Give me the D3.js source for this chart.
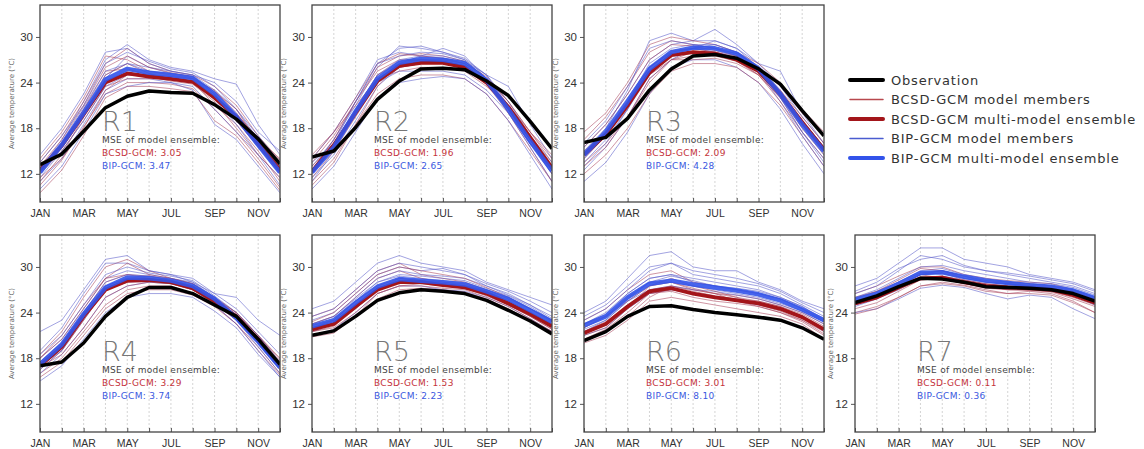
<!DOCTYPE html>
<html>
<head>
<meta charset="utf-8">
<script src="https://cdn.jsdelivr.net/npm/d3@7"></script>
<style>
  body { margin: 0; background: #fff; }
  svg { display: block; font-family: "DejaVu Sans", sans-serif; }
</style>
</head>
<body>
<div class="chart"></div>
<script>
// month labels / regions
const months = ["JAN", "FEB", "MAR", "APR", "MAY", "JUN", "JUL", "AUG", "SEP", "OCT", "NOV", "DEC"];
const shownMonths = ["JAN", "MAR", "MAY", "JUL", "SEP", "NOV"];
const regions = ["R1", "R2", "R3", "R4", "R5", "R6", "R7"];
const yTicks = [12, 18, 24, 30];

// MSE of model ensemble
const mseBcsd = [3.05, 1.96, 2.09, 3.29, 1.53, 3.01, 0.11];
const mseBip = [3.47, 2.65, 4.28, 3.74, 2.23, 8.10, 0.36];

// observation, one row per region
const observation = [
  [13.2, 14.6, 17.6, 20.7, 22.2, 22.9, 22.7, 22.6, 21.1, 19.2, 16.6, 13.3],
  [14.2, 15.0, 18.1, 21.8, 24.2, 25.8, 25.9, 25.7, 24.2, 22.3, 18.9, 15.3],
  [16.1, 16.8, 19.3, 23.0, 25.8, 27.5, 27.7, 27.2, 25.8, 23.8, 20.3, 17.0],
  [17.0, 17.5, 20.0, 23.5, 26.0, 27.3, 27.3, 26.5, 25.0, 23.5, 20.5, 17.2],
  [21.0, 21.6, 23.5, 25.6, 26.6, 27.0, 26.8, 26.5, 25.6, 24.3, 22.9, 21.2],
  [20.3, 21.5, 23.5, 24.8, 24.9, 24.4, 24.0, 23.7, 23.4, 23.0, 22.0, 20.5],
  [25.3, 26.2, 27.4, 28.5, 28.4, 28.0, 27.4, 27.3, 27.2, 27.0, 26.5, 25.5]
];

// BCSD-GCM multi-model ensemble
const bcsdEnsemble = [
  [12.5, 15.7, 19.8, 24.0, 25.2, 24.8, 24.5, 24.1, 22.0, 19.5, 16.0, 12.5],
  [12.3, 15.8, 20.0, 24.2, 26.2, 26.6, 26.6, 26.0, 24.0, 20.8, 16.8, 12.8],
  [14.5, 17.2, 21.0, 25.3, 27.6, 28.0, 27.8, 27.0, 25.5, 22.5, 18.8, 15.2],
  [17.0, 19.5, 23.5, 27.0, 28.2, 28.3, 28.0, 27.2, 25.5, 23.5, 20.5, 17.0],
  [21.8, 22.5, 24.8, 27.0, 28.0, 28.0, 27.6, 27.3, 26.5, 25.2, 23.8, 22.2],
  [21.3, 22.5, 24.8, 26.8, 27.2, 26.5, 26.0, 25.6, 25.2, 24.5, 23.4, 21.8],
  [25.2, 26.0, 27.3, 28.5, 28.6, 28.0, 27.5, 27.3, 27.2, 27.0, 26.3, 25.3]
];

// BIP-GCM multi-model ensemble
const bipEnsemble = [
  [12.2, 15.8, 20.0, 24.4, 25.8, 25.3, 25.0, 24.6, 22.5, 19.5, 15.8, 12.2],
  [12.2, 15.5, 20.2, 24.5, 26.6, 27.1, 27.0, 26.5, 24.3, 20.5, 16.3, 12.4],
  [14.5, 17.5, 21.5, 25.8, 28.0, 28.6, 28.5, 27.8, 25.8, 22.5, 18.5, 15.0],
  [17.2, 19.8, 23.8, 27.3, 28.6, 28.5, 28.2, 27.5, 25.8, 23.3, 20.2, 16.8],
  [22.2, 23.0, 25.3, 27.4, 28.4, 28.2, 28.0, 27.7, 26.8, 25.8, 24.3, 22.8],
  [22.3, 23.5, 26.0, 27.8, 28.2, 27.7, 27.3, 26.9, 26.4, 25.6, 24.4, 23.0],
  [25.7, 26.5, 27.8, 29.2, 29.3, 28.7, 28.2, 27.9, 27.6, 27.4, 26.9, 25.9]
];

// BCSD-GCM model members (per region)
const bcsdMembers = [
  [
    [10.5, 13.8, 18.2, 22.5, 24.0, 24.0, 23.8, 23.2, 20.5, 17.5, 14.0, 10.2],
    [13.5, 17.0, 21.5, 26.5, 28.5, 26.5, 25.5, 25.0, 23.5, 21.0, 17.0, 13.8],
    [12.0, 15.0, 19.0, 23.5, 24.5, 24.5, 24.5, 24.0, 22.0, 19.8, 16.8, 12.8],
    [11.0, 14.5, 19.5, 25.0, 26.5, 25.2, 24.5, 24.2, 21.0, 18.5, 15.0, 11.0],
    [14.0, 17.5, 22.0, 27.5, 27.0, 25.5, 25.0, 24.5, 23.0, 20.0, 16.5, 14.0],
    [9.5, 12.5, 17.0, 22.0, 23.5, 23.5, 23.2, 22.8, 19.0, 17.0, 13.5, 9.8],
    [12.5, 16.0, 20.5, 25.5, 25.8, 25.0, 24.8, 24.5, 22.5, 19.0, 15.5, 12.0],
    [13.0, 16.5, 21.0, 26.0, 27.5, 26.0, 25.3, 24.8, 22.8, 20.5, 16.0, 13.0],
    [11.5, 14.0, 18.0, 23.0, 25.0, 24.8, 24.2, 23.8, 21.5, 18.0, 14.5, 11.5]
  ],
  [
    [11.0, 14.0, 18.5, 22.5, 24.5, 25.0, 25.0, 24.5, 22.5, 19.0, 15.0, 11.0],
    [13.5, 17.0, 21.5, 26.0, 27.5, 27.8, 27.5, 26.8, 24.5, 21.5, 17.5, 13.5],
    [12.0, 15.5, 20.0, 24.5, 26.0, 26.5, 26.5, 26.0, 24.0, 20.5, 16.5, 12.5],
    [14.5, 17.5, 21.0, 24.5, 25.5, 26.0, 26.0, 25.5, 23.5, 21.0, 17.5, 14.5],
    [10.5, 13.5, 18.5, 23.5, 26.5, 27.0, 27.0, 26.5, 24.5, 20.0, 15.5, 11.0],
    [12.5, 16.5, 21.5, 25.5, 27.0, 27.0, 26.8, 26.2, 24.0, 20.5, 16.8, 12.8],
    [13.0, 16.0, 20.5, 25.0, 26.8, 27.0, 26.8, 26.2, 24.3, 21.0, 17.0, 13.0],
    [11.5, 15.0, 19.5, 24.0, 26.0, 26.5, 26.5, 26.0, 23.8, 20.0, 16.0, 12.0],
    [14.0, 17.5, 22.0, 26.5, 27.8, 27.5, 27.2, 26.5, 24.8, 21.5, 17.5, 14.0]
  ],
  [
    [13.5, 16.0, 19.5, 24.0, 27.0, 28.0, 28.0, 27.0, 25.0, 22.0, 18.0, 14.5],
    [16.5, 19.5, 23.5, 28.0, 29.5, 29.0, 28.5, 27.5, 26.0, 23.5, 20.0, 17.0],
    [12.0, 14.5, 18.0, 22.5, 25.5, 26.5, 26.5, 26.0, 24.0, 21.0, 17.0, 13.0],
    [15.0, 17.5, 21.5, 26.0, 28.0, 28.5, 28.0, 27.2, 25.5, 22.5, 19.0, 15.5],
    [14.0, 17.0, 21.0, 25.0, 27.0, 27.0, 27.2, 26.5, 25.0, 22.0, 18.5, 15.0],
    [17.5, 20.0, 24.0, 29.0, 30.0, 29.5, 29.0, 28.0, 26.5, 24.0, 20.5, 17.5],
    [14.5, 17.5, 21.5, 26.0, 28.2, 28.5, 28.0, 27.3, 25.5, 22.5, 18.5, 15.0],
    [13.0, 15.5, 19.5, 24.5, 27.0, 27.5, 27.5, 26.8, 25.0, 21.5, 17.5, 14.0],
    [15.5, 18.5, 22.5, 27.0, 29.0, 28.8, 28.2, 27.5, 25.8, 23.0, 19.5, 16.0]
  ],
  [
    [16.0, 18.0, 21.5, 25.0, 27.0, 27.5, 27.5, 26.5, 25.0, 22.5, 19.5, 16.0],
    [18.5, 21.5, 26.0, 30.0, 31.0, 29.5, 28.5, 27.8, 26.0, 24.0, 21.0, 18.0],
    [17.0, 19.5, 23.5, 27.5, 28.5, 28.8, 28.2, 27.5, 25.5, 23.5, 20.5, 17.0],
    [15.5, 17.5, 21.0, 24.5, 26.5, 27.0, 27.0, 26.3, 24.8, 22.5, 19.0, 15.8],
    [18.0, 21.0, 25.0, 28.5, 29.0, 28.5, 28.0, 27.5, 26.0, 24.0, 21.0, 17.8],
    [16.5, 19.0, 23.0, 27.0, 28.0, 28.0, 27.8, 27.0, 25.2, 23.0, 20.0, 16.5],
    [17.5, 20.0, 24.0, 28.0, 29.0, 28.8, 28.3, 27.5, 25.8, 23.5, 20.5, 17.2],
    [16.8, 18.5, 22.0, 26.0, 27.5, 28.0, 27.8, 27.0, 25.2, 23.0, 20.0, 16.8],
    [18.0, 20.5, 24.5, 28.5, 30.5, 29.0, 28.5, 27.8, 25.8, 24.0, 21.0, 17.5]
  ],
  [
    [21.0, 21.5, 23.5, 25.8, 27.0, 27.2, 27.0, 26.7, 25.8, 24.5, 23.0, 21.5],
    [23.5, 24.5, 27.0, 29.5, 30.5, 29.0, 28.5, 28.0, 27.0, 25.8, 24.5, 23.0],
    [22.0, 22.8, 25.0, 27.2, 28.0, 28.0, 27.6, 27.3, 26.5, 25.2, 23.8, 22.2],
    [20.8, 21.3, 23.5, 26.5, 27.5, 27.5, 27.2, 27.0, 26.0, 24.8, 23.2, 21.5],
    [22.5, 23.5, 26.0, 28.5, 29.5, 28.5, 28.0, 27.8, 26.8, 25.5, 24.0, 22.5],
    [21.5, 22.2, 24.5, 27.0, 28.5, 28.2, 27.8, 27.5, 26.5, 25.0, 23.5, 21.8],
    [22.3, 23.0, 25.5, 27.5, 28.5, 28.2, 27.8, 27.5, 26.8, 25.5, 24.0, 22.3],
    [21.5, 22.0, 24.0, 26.5, 27.5, 27.8, 27.5, 27.2, 26.2, 25.0, 23.5, 21.8],
    [22.8, 24.0, 26.5, 29.0, 30.0, 29.5, 29.0, 28.5, 27.3, 26.0, 24.5, 22.8]
  ],
  [
    [20.0, 21.0, 23.0, 25.5, 26.0, 25.5, 25.0, 24.5, 24.0, 23.5, 22.5, 20.5],
    [23.0, 24.5, 27.0, 29.0, 29.5, 28.0, 27.5, 27.0, 26.5, 25.8, 24.5, 23.0],
    [21.5, 22.5, 24.5, 26.5, 27.0, 26.5, 26.0, 25.8, 25.2, 24.5, 23.5, 21.8],
    [20.5, 21.5, 23.5, 26.0, 27.5, 27.0, 26.5, 25.5, 24.8, 24.0, 22.8, 21.0],
    [22.0, 23.5, 26.0, 28.0, 28.0, 27.0, 26.5, 26.3, 25.8, 25.0, 24.0, 22.5],
    [21.0, 22.0, 24.5, 27.5, 28.5, 27.5, 26.8, 26.0, 25.0, 24.2, 23.0, 21.5],
    [21.5, 22.8, 25.0, 27.0, 27.5, 26.8, 26.2, 25.8, 25.5, 24.8, 23.5, 22.0],
    [22.5, 23.5, 25.5, 27.5, 28.0, 27.2, 26.5, 26.0, 25.5, 24.8, 23.8, 22.2],
    [20.5, 21.8, 24.0, 26.5, 26.8, 26.0, 25.5, 25.2, 24.8, 24.0, 23.0, 21.2]
  ],
  [
    [24.0, 24.8, 26.0, 27.5, 27.8, 27.5, 26.8, 26.5, 26.5, 26.3, 25.3, 24.0],
    [26.5, 27.5, 28.8, 30.0, 30.0, 29.0, 28.5, 28.2, 28.0, 27.8, 27.0, 26.0],
    [25.0, 25.8, 27.2, 28.5, 28.8, 28.0, 27.5, 27.3, 27.2, 27.0, 26.2, 25.2],
    [23.8, 24.5, 26.0, 27.5, 28.0, 27.6, 27.0, 26.5, 26.8, 26.5, 25.5, 24.0],
    [25.8, 26.8, 28.0, 29.2, 29.5, 28.5, 28.0, 27.8, 27.6, 27.3, 26.6, 25.5],
    [25.3, 26.0, 27.5, 29.0, 28.5, 27.8, 27.2, 27.0, 27.0, 26.8, 26.0, 25.0],
    [25.5, 26.3, 27.8, 29.0, 29.2, 28.3, 27.8, 27.5, 27.4, 27.2, 26.5, 25.5],
    [24.5, 25.3, 26.8, 28.3, 28.5, 27.8, 27.3, 27.0, 26.9, 26.7, 25.8, 24.8],
    [26.0, 26.8, 28.3, 29.8, 29.5, 28.8, 28.2, 28.0, 27.8, 27.5, 26.8, 25.8]
  ]
];

// BIP-GCM model members (per region)
const bipMembers = [
  [
    [12.5, 16.5, 21.5, 27.0, 29.0, 27.0, 26.0, 25.5, 24.5, 23.8, 18.5, 14.5],
    [11.0, 14.0, 18.5, 23.0, 24.5, 24.5, 24.0, 23.5, 20.5, 17.5, 14.5, 10.5],
    [13.0, 16.0, 20.5, 25.0, 26.5, 26.0, 25.5, 25.0, 23.0, 20.5, 16.5, 13.0],
    [14.5, 18.0, 22.5, 28.0, 28.5, 26.5, 25.5, 25.0, 24.0, 21.5, 17.5, 15.0],
    [10.0, 13.0, 17.5, 22.5, 23.5, 24.0, 24.0, 23.0, 18.5, 16.5, 13.0, 9.5],
    [12.0, 15.5, 19.5, 24.5, 27.5, 26.0, 25.2, 24.8, 22.5, 19.0, 15.5, 12.0],
    [13.5, 17.0, 21.0, 26.5, 28.0, 26.8, 25.8, 25.3, 23.5, 20.5, 17.0, 13.5],
    [11.5, 15.0, 19.0, 23.5, 25.0, 25.0, 24.8, 24.2, 21.8, 18.5, 14.5, 11.5],
    [12.8, 16.2, 20.8, 25.5, 26.5, 25.5, 25.2, 24.6, 22.8, 20.0, 16.0, 12.5]
  ],
  [
    [12.5, 16.5, 21.0, 26.0, 28.8, 28.5, 28.0, 27.0, 25.0, 23.5, 18.5, 14.0],
    [10.0, 13.0, 17.5, 22.0, 24.0, 24.5, 24.8, 24.5, 22.5, 19.0, 14.5, 10.0],
    [13.0, 16.5, 21.5, 26.5, 27.5, 28.0, 27.8, 27.0, 24.5, 20.5, 16.0, 12.5],
    [11.5, 14.5, 19.0, 23.5, 26.0, 26.8, 26.8, 26.2, 24.2, 20.8, 16.5, 12.0],
    [14.0, 17.5, 22.0, 27.0, 28.0, 27.5, 27.2, 26.8, 25.0, 21.5, 17.0, 13.5],
    [11.0, 15.0, 20.5, 25.0, 26.5, 27.5, 28.5, 27.5, 24.5, 20.0, 15.5, 11.0],
    [12.0, 15.5, 20.0, 25.0, 27.0, 27.5, 27.5, 26.8, 24.5, 20.5, 16.0, 12.5],
    [13.5, 16.0, 20.5, 24.0, 25.5, 25.5, 25.5, 25.0, 23.0, 20.0, 16.0, 13.0],
    [12.5, 16.0, 21.5, 26.5, 28.5, 28.8, 28.0, 27.2, 25.0, 21.0, 16.5, 12.0]
  ],
  [
    [14.5, 18.0, 23.0, 29.5, 30.5, 29.5, 31.0, 29.0, 26.5, 25.5, 20.0, 16.0],
    [11.0, 13.5, 17.5, 22.5, 26.0, 27.0, 27.0, 26.0, 24.0, 20.5, 16.0, 12.0],
    [15.5, 18.5, 22.5, 27.0, 29.0, 29.5, 29.5, 28.5, 26.5, 23.5, 19.5, 16.0],
    [13.0, 16.0, 20.5, 25.5, 27.5, 28.0, 28.0, 27.5, 25.5, 22.0, 17.5, 13.5],
    [16.0, 19.0, 23.5, 28.5, 29.5, 29.0, 28.5, 27.8, 26.2, 23.0, 19.0, 15.5],
    [12.5, 15.5, 19.5, 24.5, 27.0, 28.5, 29.0, 28.0, 25.5, 21.5, 17.0, 13.0],
    [14.0, 17.0, 21.5, 26.5, 28.5, 29.0, 29.0, 28.0, 26.0, 22.5, 18.0, 14.5],
    [15.0, 18.0, 22.0, 26.0, 28.0, 28.5, 28.5, 27.8, 26.0, 22.8, 19.0, 15.5],
    [13.5, 16.5, 20.5, 25.0, 27.5, 28.5, 29.5, 28.5, 26.0, 22.0, 17.5, 14.0]
  ],
  [
    [21.5, 23.0, 27.0, 31.0, 31.5, 29.5, 29.0, 28.5, 26.5, 26.0, 23.0, 21.0],
    [15.0, 17.0, 20.5, 24.0, 26.0, 26.5, 26.5, 26.0, 24.2, 22.0, 18.5, 15.5],
    [18.0, 20.5, 24.5, 28.5, 29.5, 29.0, 28.5, 28.0, 26.0, 23.5, 20.0, 16.5],
    [17.0, 19.0, 23.0, 27.0, 28.0, 28.2, 28.0, 27.0, 25.5, 23.0, 20.0, 16.8],
    [19.0, 22.0, 26.5, 30.5, 30.5, 29.5, 29.0, 28.0, 26.5, 24.5, 21.5, 18.5],
    [16.0, 18.5, 22.0, 26.0, 27.5, 28.0, 27.8, 27.2, 25.0, 22.5, 19.0, 15.5],
    [17.5, 20.0, 24.0, 28.0, 29.0, 28.8, 28.5, 27.8, 26.0, 23.2, 20.0, 16.5],
    [16.5, 19.0, 23.5, 27.5, 28.5, 28.5, 28.2, 27.5, 25.5, 23.0, 19.5, 16.0],
    [18.5, 21.0, 25.0, 29.0, 30.0, 29.2, 28.8, 28.2, 26.2, 24.0, 21.0, 17.5]
  ],
  [
    [24.5, 25.5, 28.0, 30.5, 31.5, 30.5, 30.0, 29.5, 28.0, 27.0, 26.0, 25.0],
    [21.0, 21.8, 24.0, 26.5, 27.5, 27.5, 27.0, 26.8, 26.0, 24.8, 23.2, 21.5],
    [22.5, 23.5, 25.8, 28.0, 28.8, 28.5, 28.2, 28.0, 27.0, 26.0, 24.5, 23.0],
    [23.0, 24.0, 26.5, 29.0, 30.0, 29.5, 29.8, 29.0, 27.5, 26.5, 25.0, 23.5],
    [21.5, 22.5, 24.5, 27.0, 28.0, 28.0, 27.8, 27.3, 26.5, 25.3, 23.8, 22.0],
    [22.0, 23.0, 25.5, 28.0, 29.0, 28.8, 28.5, 28.2, 27.2, 26.2, 24.8, 23.0],
    [22.5, 23.5, 26.0, 28.5, 29.5, 29.0, 28.8, 28.5, 27.5, 26.3, 25.0, 23.2],
    [21.8, 22.5, 24.8, 27.2, 28.2, 28.2, 28.0, 27.6, 26.8, 25.5, 24.0, 22.5],
    [23.5, 24.5, 27.0, 29.5, 30.5, 30.0, 29.5, 29.0, 27.8, 26.8, 25.5, 24.0]
  ],
  [
    [24.0, 25.5, 28.5, 31.5, 32.0, 30.0, 29.5, 29.5, 28.0, 27.0, 25.5, 24.5],
    [21.0, 22.0, 24.5, 26.5, 27.0, 26.5, 26.0, 25.5, 25.0, 24.5, 23.5, 21.5],
    [22.5, 24.0, 26.5, 28.5, 29.0, 28.5, 28.0, 27.5, 27.0, 26.0, 24.8, 23.0],
    [23.0, 24.5, 27.0, 29.5, 30.5, 29.0, 28.5, 28.0, 27.5, 26.5, 25.0, 23.5],
    [21.5, 23.0, 25.5, 27.0, 27.5, 27.0, 26.8, 26.3, 25.8, 25.0, 24.0, 22.5],
    [22.0, 23.5, 25.8, 28.0, 28.8, 28.2, 27.5, 27.0, 26.5, 25.8, 24.5, 22.8],
    [22.5, 23.8, 26.5, 28.5, 29.0, 28.0, 27.5, 27.2, 26.8, 26.0, 24.8, 23.2],
    [23.5, 25.0, 27.5, 30.0, 30.5, 29.5, 29.0, 28.5, 27.8, 26.8, 25.3, 24.0],
    [21.8, 23.0, 25.5, 27.5, 28.0, 27.5, 27.0, 26.5, 26.0, 25.2, 24.2, 22.8]
  ],
  [
    [27.5, 28.5, 30.5, 32.5, 32.5, 31.0, 30.5, 30.0, 29.0, 28.5, 28.0, 27.0],
    [24.0, 24.5, 25.8, 27.2, 27.6, 27.3, 26.5, 25.8, 26.3, 26.0, 24.5, 23.2],
    [26.0, 27.0, 28.5, 30.0, 30.2, 29.5, 29.0, 28.5, 28.0, 27.8, 27.3, 26.3],
    [25.2, 26.0, 27.5, 29.0, 29.5, 28.8, 28.0, 27.8, 27.5, 27.2, 26.8, 25.8],
    [26.5, 27.5, 29.5, 31.5, 31.0, 30.0, 29.5, 29.0, 28.5, 28.0, 27.5, 26.5],
    [24.8, 25.8, 27.0, 28.5, 28.8, 28.3, 27.8, 27.5, 27.2, 27.0, 26.3, 25.0],
    [25.5, 26.5, 28.0, 29.5, 29.8, 29.0, 28.5, 28.0, 27.8, 27.5, 27.0, 26.0],
    [26.8, 28.0, 29.8, 31.0, 31.5, 30.2, 29.5, 29.2, 28.8, 28.3, 27.8, 26.8],
    [25.0, 26.0, 27.5, 29.0, 29.2, 28.5, 28.0, 27.8, 27.4, 27.2, 26.6, 25.5]
  ]
];

const legendLabels = [
  "Observation",
  "BCSD-GCM model members",
  "BCSD-GCM multi-model ensemble",
  "BIP-GCM model members",
  "BIP-GCM multi-model ensemble"
];

document.addEventListener("DOMContentLoaded", function () {
  const width = 1144;
  const height = 449;

  // panel placement (left, top)
  const panelPos = [[40, 5], [312, 5], [584, 5], [40, 235], [312, 235], [584, 235], [855, 235]];
  const pw = 240;
  const ph = 197;

  const colObs = "#000";
  const colBcsdMem = "#a8405a";
  const colBcsd = "#a3151a";
  const colBipMem = "#5558c8";
  const colBip = "#3253ea";

  const svg = d3.select(".chart")
    .append("svg")
    .attr("width", width)
    .attr("height", height);

  const x = d3.scalePoint().domain(months).range([0, pw]);
  const y = d3.scaleLinear().domain([8.3, 34.2]).range([ph, 0]);

  const line = d3.line()
    .x((d, i) => x(months[i]))
    .y(d => y(d));

  regions.forEach(function (name, r) {
    const g = svg.append("g")
      .attr("transform", `translate(${panelPos[r][0]},${panelPos[r][1]})`);

    g.append("clipPath").attr("id", "clip" + r)
      .append("rect").attr("width", pw).attr("height", ph);

    // vertical dotted grid
    g.selectAll(".grid")
      .data(months.slice(1, 11))
      .enter()
      .append("line")
      .attr("x1", d => x(d)).attr("x2", d => x(d))
      .attr("y1", 0).attr("y2", ph)
      .attr("stroke", "#c9c9c9")
      .attr("stroke-width", 0.8)
      .attr("stroke-dasharray", "2,2");

    // y axis
    const yAxis = g.append("g")
      .call(d3.axisLeft(y).tickValues(yTicks).tickSize(4).tickPadding(3));
    yAxis.select(".domain").remove();
    yAxis.selectAll("line").attr("stroke", "#555");
    yAxis.selectAll("text")
      .attr("fill", "#333")
      .style("font-size", "11.5px")
      .style("font-family", "'Liberation Sans', sans-serif");

    // x axis, ticks inward
    const xAxis = g.append("g")
      .attr("transform", `translate(0,${ph})`)
      .call(d3.axisBottom(x).tickSize(-4).tickPadding(8)
        .tickFormat(d => shownMonths.includes(d) ? d : ""));
    xAxis.select(".domain").remove();
    xAxis.selectAll("line").attr("stroke", "#555");
    xAxis.selectAll("text")
      .attr("fill", "#333")
      .style("font-size", "10.5px")
      .style("font-family", "'Liberation Sans', sans-serif");

    // y title
    g.append("text")
      .attr("transform", `translate(${r === 6 ? -22 : -26},${ph / 2}) rotate(-90)`)
      .attr("text-anchor", "middle")
      .attr("fill", "#666")
      .style("font-size", "7px")
      .text("Average temperature (°C)");

    const lines = g.append("g").attr("clip-path", `url(#clip${r})`);

    // members
    bcsdMembers[r].forEach(function (m, k) {
      lines.append("path")
        .attr("d", line(m))
        .attr("fill", "none")
        .attr("stroke", colBcsdMem)
        .attr("stroke-opacity", 0.55)
        .attr("stroke-width", 1);
      lines.append("path")
        .attr("d", line(bipMembers[r][k]))
        .attr("fill", "none")
        .attr("stroke", colBipMem)
        .attr("stroke-opacity", 0.55)
        .attr("stroke-width", 1);
    });

    // ensembles and observation
    lines.append("path")
      .attr("d", line(bcsdEnsemble[r]))
      .attr("fill", "none")
      .attr("stroke", colBcsd)
      .attr("stroke-width", 3.8)
      .attr("stroke-linejoin", "round");
    lines.append("path")
      .attr("d", line(bipEnsemble[r]))
      .attr("fill", "none")
      .attr("stroke", colBip)
      .attr("stroke-opacity", 0.9)
      .attr("stroke-width", 4.5)
      .attr("stroke-linejoin", "round");
    lines.append("path")
      .attr("d", line(observation[r]))
      .attr("fill", "none")
      .attr("stroke", colObs)
      .attr("stroke-width", 3.5)
      .attr("stroke-linejoin", "round");

    // frame
    g.append("rect")
      .attr("width", pw).attr("height", ph)
      .attr("fill", "none")
      .attr("stroke", "#444")
      .attr("stroke-width", 1.3);

    // annotation
    const tx = 62;
    g.append("text")
      .attr("x", tx).attr("y", 126)
      .attr("fill", "#777")
      .style("font-size", "27px")
      .style("font-weight", 200)
      .style("font-family", "'DejaVu Sans', sans-serif")
      .text(name);
    g.append("text")
      .attr("x", tx).attr("y", 138)
      .attr("fill", "#444")
      .style("font-size", "9px")
      .style("letter-spacing", "0.3px")
      .text("MSE of model ensemble:");
    g.append("text")
      .attr("x", tx).attr("y", 151)
      .attr("fill", "#c4333a")
      .style("font-size", "9px")
      .style("letter-spacing", "0.3px")
      .text("BCSD-GCM: " + mseBcsd[r].toFixed(2));
    g.append("text")
      .attr("x", tx).attr("y", 164)
      .attr("fill", "#3a58e0")
      .style("font-size", "9px")
      .style("letter-spacing", "0.3px")
      .text("BIP-GCM: " + mseBip[r].toFixed(2));
  });

  // legend
  const legendStyle = [
    { color: colObs, w: 4 },
    { color: "#b8484e", w: 1.5 },
    { color: colBcsd, w: 4 },
    { color: "#4a5cd0", w: 1.5 },
    { color: colBip, w: 4 }
  ];
  const legend = svg.append("g").attr("transform", "translate(850,80)");
  legendLabels.forEach(function (lab, i) {
    const row = legend.append("g").attr("transform", `translate(0,${i * 19.5})`);
    row.append("line")
      .attr("x1", 0).attr("x2", 33)
      .attr("stroke", legendStyle[i].color)
      .attr("stroke-width", legendStyle[i].w)
      .attr("stroke-linecap", "round");
    row.append("text")
      .attr("x", 41).attr("dy", "0.35em")
      .attr("fill", "#333")
      .style("font-size", "13px")
      .style("letter-spacing", "0.8px")
      .text(lab);
  });
});
</script>
</body>
</html>
